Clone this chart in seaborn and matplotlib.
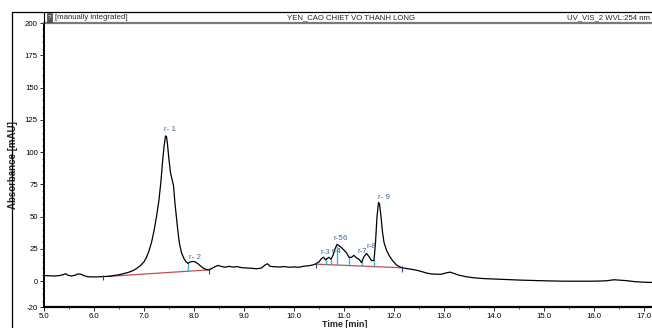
import numpy as np
import pandas as pd
import matplotlib
matplotlib.use("Agg")
import matplotlib.pyplot as plt
from matplotlib.lines import Line2D
from matplotlib.patches import Rectangle
from matplotlib.ticker import MultipleLocator, FixedLocator
import seaborn as sns

# Chromatogram trace: retention time (min) and absorbance (mAU)
time_min = [
    5.00, 5.10, 5.20, 5.30, 5.38, 5.43, 5.48, 5.55, 5.62, 5.68, 5.74, 5.80, 5.88,
    6.00, 6.10, 6.20, 6.30, 6.40, 6.50, 6.60, 6.70, 6.78, 6.85, 6.92, 7.00, 7.05,
    7.10, 7.15, 7.20, 7.25, 7.30, 7.34, 7.37, 7.40, 7.43, 7.45, 7.47, 7.50, 7.53,
    7.56, 7.59, 7.62, 7.65, 7.68, 7.71, 7.75, 7.80, 7.84, 7.88, 7.92, 7.97, 8.02,
    8.08, 8.14, 8.20, 8.26, 8.31, 8.36, 8.42, 8.48, 8.55, 8.62, 8.70, 8.78, 8.86,
    8.95, 9.05, 9.15, 9.25, 9.35, 9.42, 9.47, 9.52, 9.60, 9.70, 9.80, 9.90, 10.00,
    10.10, 10.20, 10.30, 10.38, 10.44, 10.50, 10.55, 10.59, 10.63, 10.66, 10.70,
    10.74, 10.78, 10.82, 10.86, 10.90, 10.95, 11.00, 11.05, 11.10, 11.15, 11.20,
    11.25, 11.30, 11.35, 11.40, 11.45, 11.50, 11.55, 11.60, 11.63, 11.66, 11.69,
    11.71, 11.74, 11.77, 11.80, 11.85, 11.90, 11.97, 12.05, 12.15, 12.25, 12.35,
    12.45, 12.55, 12.65, 12.75, 12.85, 12.95, 13.05, 13.12, 13.20, 13.30, 13.45,
    13.60, 13.80, 14.05, 14.30, 14.55, 14.80, 15.10, 15.40, 15.70, 16.00, 16.25,
    16.40, 16.50, 16.65, 16.80, 17.00, 17.20,
]
absorbance = [
    4.4, 4.2, 4.0, 4.3, 5.0, 5.8, 4.6, 4.0, 4.6, 5.6, 5.4, 4.3, 3.4,
    3.3, 3.4, 3.6, 3.8, 4.4, 5.0, 5.9, 7.0, 8.2, 9.8, 11.8, 15.0, 18.5,
    23.5, 30.0, 39.0, 50.0, 63.0, 78.0, 92.0, 104.0, 112.5, 112.0, 106.0, 94.0, 84.0,
    79.0, 74.0, 60.0, 49.0, 38.0, 29.0, 22.0, 17.5, 15.0, 13.8, 14.8, 15.3, 15.0,
    13.5, 11.5, 9.8, 8.9, 8.8, 10.0, 11.2, 12.2, 11.4, 10.8, 11.5, 10.9, 11.3,
    10.5, 10.2, 10.0, 9.6, 10.2, 12.5, 13.5, 11.5, 11.2, 11.0, 11.3, 10.8, 11.0,
    10.8, 11.6, 12.0, 12.6, 13.5, 15.0, 17.5, 18.6, 16.5, 17.5, 18.5,
    17.0, 20.0, 25.0, 28.5, 27.5, 26.0, 24.0, 22.0, 18.5, 18.5, 20.0,
    18.0, 17.0, 14.5, 19.0, 21.5, 19.0, 16.0, 16.0, 30.0, 50.0, 61.0,
    60.0, 50.0, 38.0, 30.0, 24.0, 20.0, 16.0, 12.5, 10.5, 9.8, 9.2,
    8.5, 7.5, 6.3, 5.6, 5.4, 5.4, 6.5, 7.0, 6.0, 4.6, 3.4,
    2.6, 2.0, 1.6, 1.2, 0.8, 0.5, 0.2, 0.0, 0.0, 0.0, 0.3,
    1.1, 0.8, 0.4, -0.3, -0.8, -1.0,
]

# Integration baselines (start, end) for the two peak groups
baseline_1_t = [6.28, 8.31]
baseline_1_y = [3.7, 8.8]
baseline_2_t = [10.44, 12.15]
baseline_2_y = [13.2, 10.4]

# Peak delimiters
peak_bounds = [6.18, 8.31, 10.44, 12.15]
drop_lines_1 = [7.88]
drop_lines_2 = [10.64, 10.74, 10.85, 11.10, 11.36, 11.59]

# Peak labels
peak_label_text = ["r- 1", "r- 2", "r-3", "r-4", "r-5", "6", "r-7", "r-8", "r- 9"]
peak_label_t = [7.40, 7.90, 10.53, 10.74, 10.78, 10.97, 11.26, 11.45, 11.67]
peak_label_y = [114.5, 16.0, 19.5, 20.5, 30.5, 30.5, 20.5, 24.0, 62.0]

y_ticks = [-20, 0, 25, 50, 75, 100, 125, 150, 175, 200]
x_ticks = [5, 6, 7, 8, 9, 10, 11, 12, 13, 14, 15, 16, 17]

sns.set_style("ticks")
plt.rcParams["font.family"] = ["Liberation Sans", "DejaVu Sans"]

W, H = 652, 328
fig = plt.figure(figsize=(W / 100, H / 100), dpi=100)
ax = fig.add_axes([44 / W, (H - 307) / H, 1 - 44 / W, (307 - 23) / H])

trace = pd.DataFrame({"Time [min]": time_min, "Absorbance [mAU]": absorbance})
sns.lineplot(data=trace, x="Time [min]", y="Absorbance [mAU]", ax=ax,
             color="black", linewidth=0.9, zorder=3)

red = "#c0504d"
sns.lineplot(x=baseline_1_t, y=baseline_1_y, ax=ax, color=red, linewidth=0.9, zorder=2)
sns.lineplot(x=baseline_2_t, y=baseline_2_y, ax=ax, color=red, linewidth=0.9, zorder=2)

# Drop lines from the trace down to the baseline
cyan = "#3ab4d4"
for bt, by, drops in [(baseline_1_t, baseline_1_y, drop_lines_1),
                      (baseline_2_t, baseline_2_y, drop_lines_2)]:
    for t in drops:
        top = np.interp(t, time_min, absorbance)
        bottom = np.interp(t, bt, by)
        ax.vlines(t, bottom, top, color=cyan, linewidth=1.0, zorder=2.5)

# Peak start/end markers
navy = "#2a3f8f"
for t in peak_bounds:
    yv = np.interp(t, time_min, absorbance)
    ax.vlines(t, yv - 3.0, yv + 1.5, color=navy, linewidth=0.8, zorder=4)

label_blue = "#3d62a6"
for txt, t, yv in zip(peak_label_text, peak_label_t, peak_label_y):
    ax.text(t, yv, txt, color=label_blue, fontsize=5.8, ha="left", va="bottom", zorder=5)

ax.set_xlim(5, 5 + (W - 44) / 50)
ax.set_ylim(-20, 200)

ax.xaxis.set_major_locator(FixedLocator(x_ticks))
ax.set_xticklabels([f"{v:.1f}" for v in x_ticks])
ax.xaxis.set_minor_locator(MultipleLocator(0.5))
ax.yaxis.set_major_locator(FixedLocator(y_ticks))
ax.set_yticklabels([str(v) for v in y_ticks])
ax.yaxis.set_minor_locator(MultipleLocator(5))

ax.tick_params(axis="both", which="major", labelsize=5.6, length=3, width=0.6,
               pad=1.5, direction="out", colors="black")
ax.tick_params(axis="both", which="minor", length=1.6, width=0.5, direction="out")

for side in ["left", "bottom"]:
    ax.spines[side].set_color("black")
ax.spines["left"].set_linewidth(1.4)
ax.spines["bottom"].set_linewidth(1.6)
ax.spines["top"].set_visible(True)
ax.spines["top"].set_color("#7a7a7a")
ax.spines["top"].set_linewidth(1.6)
ax.spines["right"].set_visible(False)

ax.set_ylabel("Absorbance [mAU]", fontsize=7, fontweight="bold")
ax.yaxis.set_label_coords(-0.042, 0.5)
ax.set_xlabel("Time [min]", fontsize=6.5, fontweight="bold")
ax.xaxis.set_label_coords(0.495, -0.046)

# Report frame and header band
def fx(px):
    return px / W

def fy(py):
    return (H - py) / H

fig.add_artist(Line2D([fx(12), 1], [fy(12), fy(12)], color="black", linewidth=0.9))
fig.add_artist(Line2D([fx(12), fx(12)], [0, fy(12)], color="black", linewidth=0.9))
fig.add_artist(Line2D([fx(44), fx(44)], [fy(23), fy(12)], color="black", linewidth=0.8))
fig.add_artist(Rectangle((fx(46.5), fy(21.5)), 5 / W, 8.5 / H, transform=fig.transFigure,
                         facecolor="#555555", edgecolor="#333333", linewidth=0.4))
fig.text(fx(49), fy(17.5), "?", fontsize=4.5, color="white", ha="center", va="center")

hdr_y = fy(17.3)
fig.text(fx(55), hdr_y, "[manually integrated]", fontsize=5.6, ha="left", va="center")
fig.text(fx(351), hdr_y, "YEN_CAO CHIET VO THANH LONG", fontsize=5.6, ha="center", va="center")
fig.text(fx(650), hdr_y, "UV_VIS_2 WVL:254 nm", fontsize=5.6, ha="right", va="center")

fig.savefig("out.png", dpi=100, facecolor="white")
